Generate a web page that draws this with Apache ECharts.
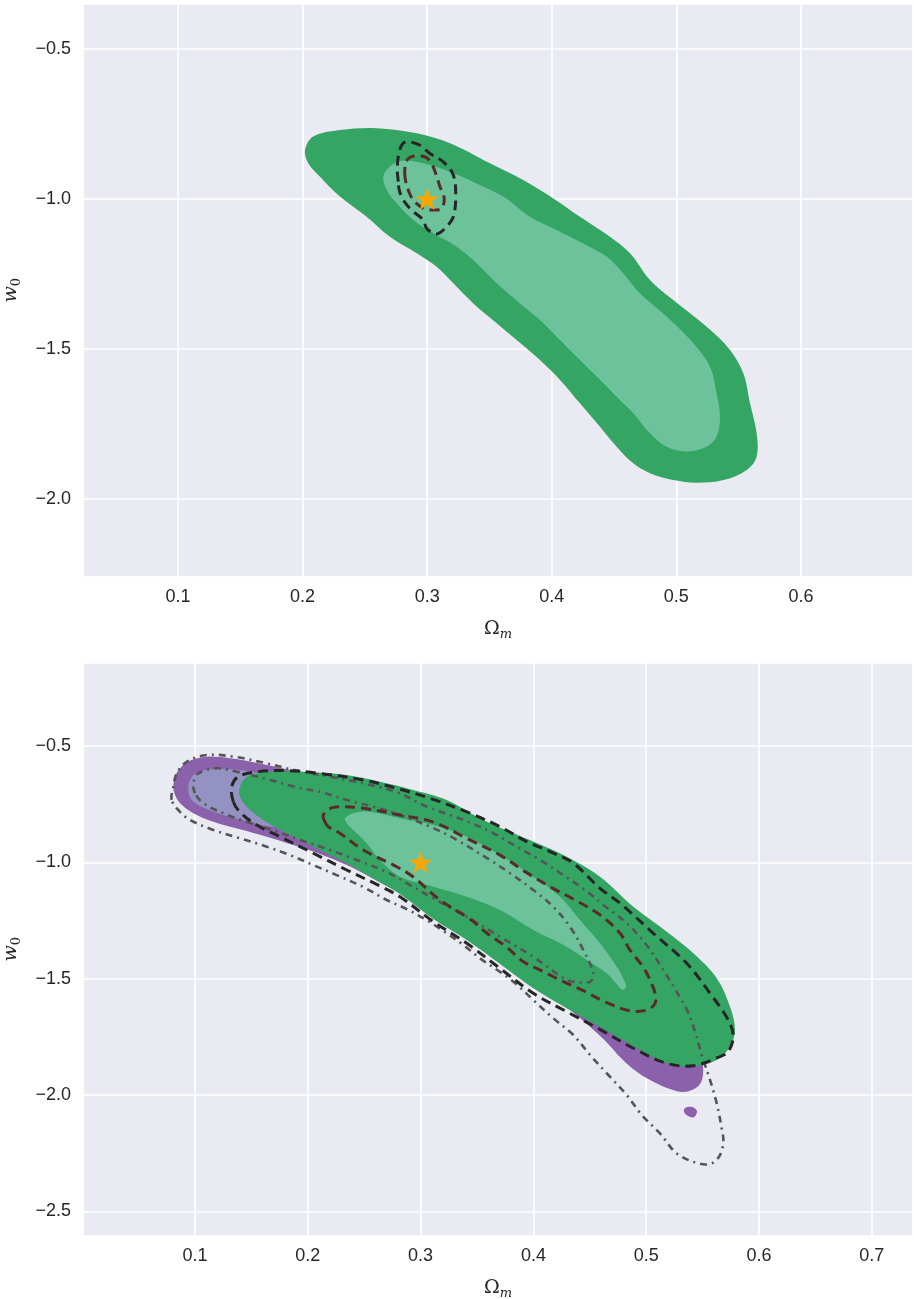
<!DOCTYPE html>
<html>
<head>
<meta charset="utf-8">
<script src="https://cdn.jsdelivr.net/npm/echarts@6/dist/echarts.min.js"></script>
<style>
  html, body { margin: 0; padding: 0; background: #ffffff; }
  #chart { width: 914px; height: 1299px; }
</style>
</head>
<body>
<div id="chart"></div>
<script>
// Fiducial cosmology (Omega_m, w0)
const fiducial = [0.3, -1.0];

// ---------- Upper panel ----------
const upperOuter = [
  [0.202,-0.837],[0.2086,-0.792],[0.230,-0.770],[0.2595,-0.764],[0.2916,-0.781],[0.3183,-0.814],
  [0.3504,-0.881],[0.3771,-0.937],[0.4012,-0.998],[0.4226,-1.059],[0.4467,-1.126],[0.4628,-1.181],
  [0.4788,-1.270],[0.4975,-1.337],[0.5243,-1.426],[0.543,-1.503],[0.5537,-1.581],[0.5591,-1.681],
  [0.5644,-1.781],[0.5644,-1.859],[0.5564,-1.903],[0.5377,-1.937],[0.5163,-1.946],[0.4975,-1.937],
  [0.4788,-1.914],[0.4654,-1.881],[0.4521,-1.826],[0.4387,-1.759],[0.4226,-1.681],[0.4066,-1.603],
  [0.3905,-1.537],[0.3718,-1.470],[0.3558,-1.414],[0.337,-1.348],[0.321,-1.281],[0.3076,-1.226],
  [0.2916,-1.181],[0.2701,-1.126],[0.2514,-1.059],[0.230,-0.992],[0.214,-0.926],[0.2046,-0.881]
];
const upperInner = [
  [0.2648,-0.926],[0.2701,-0.892],[0.2808,-0.872],[0.2969,-0.881],[0.3183,-0.909],[0.3397,-0.948],
  [0.3611,-0.992],[0.3825,-1.059],[0.4039,-1.103],[0.4253,-1.148],[0.4441,-1.192],[0.4574,-1.248],
  [0.4708,-1.314],[0.4922,-1.392],[0.5136,-1.481],[0.527,-1.559],[0.5323,-1.648],[0.535,-1.726],
  [0.5323,-1.792],[0.5243,-1.826],[0.5083,-1.842],[0.4922,-1.826],[0.4788,-1.781],[0.4654,-1.714],
  [0.4521,-1.659],[0.436,-1.592],[0.42,-1.526],[0.4066,-1.470],[0.3905,-1.403],[0.3745,-1.348],
  [0.3558,-1.281],[0.3397,-1.214],[0.3237,-1.159],[0.3049,-1.114],[0.2888,-1.070],[0.2755,-1.014],
  [0.2675,-0.970]
];
const upperRefOuter = [
  [0.2768,-0.942],[0.276,-0.892],[0.2782,-0.834],[0.2822,-0.811],[0.2929,-0.818],[0.3022,-0.848],
  [0.3129,-0.876],[0.321,-0.920],[0.3229,-0.992],[0.321,-1.059],[0.3156,-1.092],[0.3076,-1.117],
  [0.2996,-1.098],[0.2969,-1.070],[0.2875,-1.037],[0.2808,-1.003],[0.2776,-0.970]
];
const upperRefInner = [
  [0.2822,-0.926],[0.2827,-0.881],[0.2862,-0.861],[0.2956,-0.857],[0.3022,-0.872],[0.3068,-0.914],
  [0.3103,-0.959],[0.3137,-0.998],[0.3116,-1.031],[0.3049,-1.037],[0.2969,-1.031],[0.2888,-1.003],
  [0.2848,-0.970]
];

// ---------- Lower panel ----------
const lowerPurpleOuter = [
  [0.0808,-0.675],[0.0823,-0.632],[0.0867,-0.596],[0.0956,-0.563],[0.1104,-0.546],[0.131,-0.553],
  [0.1576,-0.575],[0.1813,-0.600],[0.2197,-0.638],[0.2817,-0.732],[0.3349,-0.853],[0.3881,-0.999],
  [0.4413,-1.183],[0.4856,-1.377],[0.5211,-1.570],[0.5433,-1.742],[0.5495,-1.850],[0.5504,-1.910],
  [0.5477,-1.953],[0.5406,-1.979],[0.5317,-1.987],[0.5184,-1.970],[0.5034,-1.936],[0.4883,-1.888],
  [0.4768,-1.837],[0.4679,-1.789],[0.4573,-1.738],[0.4324,-1.635],[0.3881,-1.484],[0.3438,-1.334],
  [0.2995,-1.183],[0.2551,-1.063],[0.2345,-1.012],[0.2108,-0.964],[0.1871,-0.926],[0.1636,-0.890],
  [0.1399,-0.858],[0.1162,-0.826],[0.0985,-0.789],[0.0867,-0.746],[0.0823,-0.711]
];
const lowerPurpleIsland = [
  [0.5344,-2.056],[0.5406,-2.052],[0.5450,-2.069],[0.5424,-2.095],[0.5371,-2.090],[0.5335,-2.073]
];
const lowerPurpleInner = [
  [0.0941,-0.697],[0.0956,-0.646],[0.1029,-0.611],[0.1192,-0.599],[0.1399,-0.603],[0.1547,-0.615],
  [0.1798,-0.638],[0.2108,-0.689],[0.2197,-0.767],[0.2020,-0.827],[0.1798,-0.848],[0.1636,-0.844],
  [0.1458,-0.823],[0.1281,-0.801],[0.1104,-0.771],[0.0985,-0.740]
];
const lowerGreenOuter = [
  [0.1393,-0.689],[0.1428,-0.646],[0.1517,-0.621],[0.1754,-0.609],[0.2049,-0.613],[0.2345,-0.625],
  [0.2640,-0.654],[0.2935,-0.689],[0.3231,-0.732],[0.3556,-0.818],[0.3999,-0.911],[0.4295,-0.976],
  [0.4590,-1.062],[0.4886,-1.191],[0.5182,-1.298],[0.5418,-1.391],[0.5625,-1.498],[0.5743,-1.621],
  [0.5787,-1.721],[0.5743,-1.792],[0.5625,-1.850],[0.5418,-1.878],[0.5182,-1.862],[0.4886,-1.789],
  [0.4590,-1.707],[0.4295,-1.627],[0.3999,-1.541],[0.3704,-1.437],[0.3409,-1.334],[0.3113,-1.244],
  [0.2817,-1.136],[0.2551,-1.062],[0.2345,-1.004],[0.2049,-0.933],[0.1813,-0.875],[0.1606,-0.818],
  [0.1458,-0.761],[0.1399,-0.718]
];
const lowerGreenInner = [
  [0.2330,-0.811],[0.2403,-0.789],[0.2551,-0.783],[0.2817,-0.811],[0.3113,-0.840],[0.3409,-0.890],
  [0.3704,-0.969],[0.3999,-1.062],[0.4236,-1.148],[0.4413,-1.248],[0.4590,-1.348],[0.4739,-1.449],
  [0.4794,-1.497],[0.4821,-1.532],[0.4794,-1.549],[0.4741,-1.525],[0.4650,-1.477],[0.4473,-1.420],
  [0.4295,-1.363],[0.3999,-1.291],[0.3704,-1.205],[0.3409,-1.148],[0.3113,-1.105],[0.2817,-1.062],
  [0.2640,-0.990],[0.2522,-0.918],[0.2403,-0.861],[0.2345,-0.832]
];
const lowerRefOuter = [
  [0.1340,-0.740],[0.1325,-0.676],[0.1381,-0.633],[0.1547,-0.611],[0.1813,-0.606],[0.2108,-0.618],
  [0.2492,-0.646],[0.2788,-0.682],[0.3083,-0.725],[0.3438,-0.789],[0.3704,-0.847],[0.3941,-0.911],
  [0.4147,-0.954],[0.4354,-1.004],[0.4590,-1.112],[0.4768,-1.176],[0.5063,-1.305],[0.5359,-1.434],
  [0.5566,-1.563],[0.5728,-1.678],[0.5772,-1.749],[0.5725,-1.815],[0.5654,-1.835],[0.5418,-1.874],
  [0.5182,-1.864],[0.4886,-1.799],[0.4590,-1.718],[0.4295,-1.642],[0.3999,-1.563],[0.3704,-1.456],
  [0.3409,-1.348],[0.3113,-1.255],[0.2817,-1.148],[0.2640,-1.102],[0.2345,-1.033],[0.2049,-0.961],
  [0.1754,-0.890],[0.1547,-0.840],[0.1399,-0.784]
];
const lowerRefInner = [
  [0.2152,-0.826],[0.2137,-0.797],[0.2226,-0.764],[0.2492,-0.768],[0.2817,-0.797],[0.3113,-0.827],
  [0.3409,-0.897],[0.3704,-0.969],[0.3926,-1.040],[0.4147,-1.105],[0.4369,-1.162],[0.4590,-1.226],
  [0.4768,-1.305],[0.4856,-1.377],[0.4972,-1.449],[0.5034,-1.506],[0.5078,-1.563],[0.5078,-1.606],
  [0.5004,-1.635],[0.4856,-1.638],[0.4635,-1.600],[0.4457,-1.555],[0.4262,-1.512],[0.4085,-1.469],
  [0.3908,-1.426],[0.3757,-1.362],[0.3598,-1.308],[0.3438,-1.244],[0.3172,-1.162],[0.2935,-1.063],
  [0.2788,-1.019],[0.2492,-0.947],[0.2285,-0.875],[0.2182,-0.847]
];
const lowerAltOuter = [
  [0.0793,-0.732],[0.0808,-0.675],[0.0838,-0.618],[0.0926,-0.568],[0.1104,-0.539],[0.1340,-0.546],
  [0.1636,-0.575],[0.1902,-0.606],[0.2197,-0.632],[0.2492,-0.661],[0.2788,-0.698],[0.3024,-0.754],
  [0.3261,-0.797],[0.3453,-0.832],[0.3645,-0.875],[0.3852,-0.933],[0.4059,-0.990],[0.4265,-1.055],
  [0.4457,-1.119],[0.4620,-1.183],[0.4827,-1.262],[0.4989,-1.347],[0.5152,-1.463],[0.5270,-1.557],
  [0.5362,-1.635],[0.5433,-1.728],[0.5492,-1.828],[0.5566,-1.936],[0.5625,-2.036],[0.5669,-2.143],
  [0.5684,-2.201],[0.5654,-2.258],[0.5581,-2.294],[0.5462,-2.294],[0.5270,-2.251],[0.5122,-2.165],
  [0.4960,-2.086],[0.4827,-2.000],[0.4664,-1.914],[0.4502,-1.828],[0.4354,-1.742],[0.4176,-1.670],
  [0.3999,-1.592],[0.3837,-1.519],[0.3704,-1.471],[0.3527,-1.413],[0.3379,-1.355],[0.3201,-1.295],
  [0.3083,-1.257],[0.2877,-1.201],[0.2699,-1.162],[0.2492,-1.106],[0.2256,-1.055],[0.2049,-1.012],
  [0.1842,-0.969],[0.1636,-0.933],[0.1399,-0.897],[0.1162,-0.861],[0.0956,-0.818],[0.0867,-0.783]
];
const lowerAltInner = [
  [0.1000,-0.703],[0.0985,-0.661],[0.1029,-0.618],[0.1192,-0.596],[0.1370,-0.611],[0.1665,-0.646],
  [0.1902,-0.678],[0.2108,-0.697],[0.2345,-0.732],[0.2581,-0.761],[0.2817,-0.797],[0.3113,-0.853],
  [0.3320,-0.904],[0.3615,-0.990],[0.3793,-1.047],[0.3999,-1.119],[0.4176,-1.191],[0.4324,-1.277],
  [0.4442,-1.377],[0.4531,-1.477],[0.4502,-1.513],[0.4354,-1.513],[0.4265,-1.498],[0.3999,-1.406],
  [0.3704,-1.320],[0.3409,-1.234],[0.3113,-1.155],[0.2877,-1.090],[0.2699,-1.042],[0.2434,-0.990],
  [0.2197,-0.947],[0.1931,-0.904],[0.1724,-0.868],[0.1458,-0.826],[0.1251,-0.789],[0.1074,-0.746]
];

// Axis extents of the two panels
const upperX = [0.0238, 0.6899];
const upperY = [-2.259, -0.35];
const lowerX = [0.0007, 0.7365];
const lowerY = [-2.6046, -0.1435];

// ---------- Styling ----------
const C = {
  bg: '#EAEAF2',
  grid: '#FFFFFF',
  text: '#262626',
  greenDark: '#35A564',
  greenLight: '#6BC29B',
  purpleDark: '#8B61AB',
  purpleLight: '#9392C3',
  dashBlack: '#262626',
  dashRed: '#5A2A2A',
  dashGrey: '#555555',
  star: '#FFA500'
};
const DASH = [10, 6];
const DASH_DOT = [7, 5, 2, 5];

function region(points, panel, fill, z) {
  return {
    type: 'custom', xAxisIndex: panel, yAxisIndex: panel, z: z, silent: true,
    data: points,
    renderItem: function (params, api) {
      if (params.dataIndex !== 0) return null;
      return {
        type: 'polygon',
        shape: { points: points.map(function (p) { return api.coord(p); }), smooth: 0.35 },
        style: { fill: fill, stroke: null }
      };
    }
  };
}

function contour(points, panel, color, dash, width, z) {
  return {
    type: 'custom', xAxisIndex: panel, yAxisIndex: panel, z: z, silent: true,
    data: points,
    renderItem: function (params, api) {
      if (params.dataIndex !== 0) return null;
      return {
        type: 'polygon',
        shape: { points: points.map(function (p) { return api.coord(p); }), smooth: 0.35 },
        style: { fill: 'none', stroke: color, lineWidth: width, lineDash: dash, lineCap: 'butt' }
      };
    }
  };
}

const STAR = 'path://M50,0 L61.2,34.5 L97.6,34.5 L68.2,55.9 L79.4,90.5 L50,69.1 L20.6,90.5 L31.8,55.9 L2.4,34.5 L38.8,34.5 Z';

function starSeries(panel) {
  return {
    type: 'scatter', xAxisIndex: panel, yAxisIndex: panel, z: 20, silent: true,
    data: [fiducial], symbol: STAR, symbolSize: [24, 22],
    itemStyle: { color: C.star, opacity: 1 }
  };
}

function tickText(v, step) {
  const k = v / step;
  if (Math.abs(k - Math.round(k)) > 1e-6) return '';
  return (v < -1e-9 ? '\u2212' : '') + Math.abs(v).toFixed(1);
}

const labelFont = { fontFamily: '"Liberation Sans", Arial, sans-serif', fontSize: 18, color: C.text };

const nameRich = {
  a: { fontFamily: '"DejaVu Serif", serif', fontSize: 19, color: C.text, lineHeight: 24 },
  ai: { fontFamily: '"DejaVu Serif", serif', fontStyle: 'italic', fontSize: 19, color: C.text, lineHeight: 24 },
  b: { fontFamily: '"DejaVu Serif", serif', fontStyle: 'italic', fontSize: 13, color: C.text, lineHeight: 12, verticalAlign: 'bottom' },
  c: { fontFamily: '"DejaVu Serif", serif', fontSize: 13, color: C.text, lineHeight: 12, verticalAlign: 'bottom' }
};

function xAxisCfg(idx, ext) {
  return {
    type: 'value', gridIndex: idx, min: ext[0], max: ext[1],
    splitNumber: 7, minInterval: 0.1, maxInterval: 0.1,
    axisLine: { show: false }, axisTick: { show: false },
    axisLabel: Object.assign({ margin: 11, formatter: function (v) { return tickText(v, 0.1); } }, labelFont),
    splitLine: { show: true, lineStyle: { color: C.grid, width: 1.7 } },
    name: '{a|\u03A9}{b|m}', nameLocation: 'middle', nameGap: 40,
    nameTextStyle: { rich: nameRich }
  };
}

function yAxisCfg(idx, ext, split) {
  return {
    type: 'value', gridIndex: idx, min: ext[0], max: ext[1],
    splitNumber: split, minInterval: 0.5, maxInterval: 0.5,
    axisLine: { show: false }, axisTick: { show: false },
    axisLabel: Object.assign({ margin: 12, formatter: function (v) { return tickText(v, 0.5); } }, labelFont),
    splitLine: { show: true, lineStyle: { color: C.grid, width: 1.7 } },
    name: '{ai|w}{c|0}', nameLocation: 'middle', nameGap: 60, nameRotate: 90,
    nameTextStyle: { rich: nameRich }
  };
}

const chart = echarts.init(document.getElementById('chart'), null, { renderer: 'canvas' });

chart.setOption({
  animation: false,
  backgroundColor: '#FFFFFF',
  grid: [
    { left: 83, top: 4, width: 830, height: 572.7, show: true, backgroundColor: C.bg, borderWidth: 0,
      containLabel: false, outerBoundsMode: 'none' },
    { left: 83, top: 663, width: 830, height: 572.7, show: true, backgroundColor: C.bg, borderWidth: 0,
      containLabel: false, outerBoundsMode: 'none' }
  ],
  xAxis: [xAxisCfg(0, upperX), xAxisCfg(1, lowerX)],
  yAxis: [yAxisCfg(0, upperY, 4), yAxisCfg(1, lowerY, 5)],
  series: [
    // upper panel
    region(upperOuter, 0, C.greenDark, 2),
    region(upperInner, 0, C.greenLight, 3),
    contour(upperRefOuter, 0, C.dashBlack, DASH, 3, 6),
    contour(upperRefInner, 0, C.dashRed, DASH, 3, 6),
    starSeries(0),
    // lower panel
    region(lowerPurpleOuter, 1, C.purpleDark, 2),
    region(lowerPurpleIsland, 1, C.purpleDark, 2),
    region(lowerPurpleInner, 1, C.purpleLight, 3),
    region(lowerGreenOuter, 1, C.greenDark, 4),
    region(lowerGreenInner, 1, C.greenLight, 5),
    contour(lowerAltOuter, 1, C.dashGrey, DASH_DOT, 2.6, 6),
    contour(lowerAltInner, 1, C.dashGrey, DASH_DOT, 2.6, 6),
    contour(lowerRefOuter, 1, C.dashBlack, DASH, 3, 7),
    contour(lowerRefInner, 1, C.dashRed, DASH, 3, 7),
    starSeries(1)
  ]
});
</script>
</body>
</html>
